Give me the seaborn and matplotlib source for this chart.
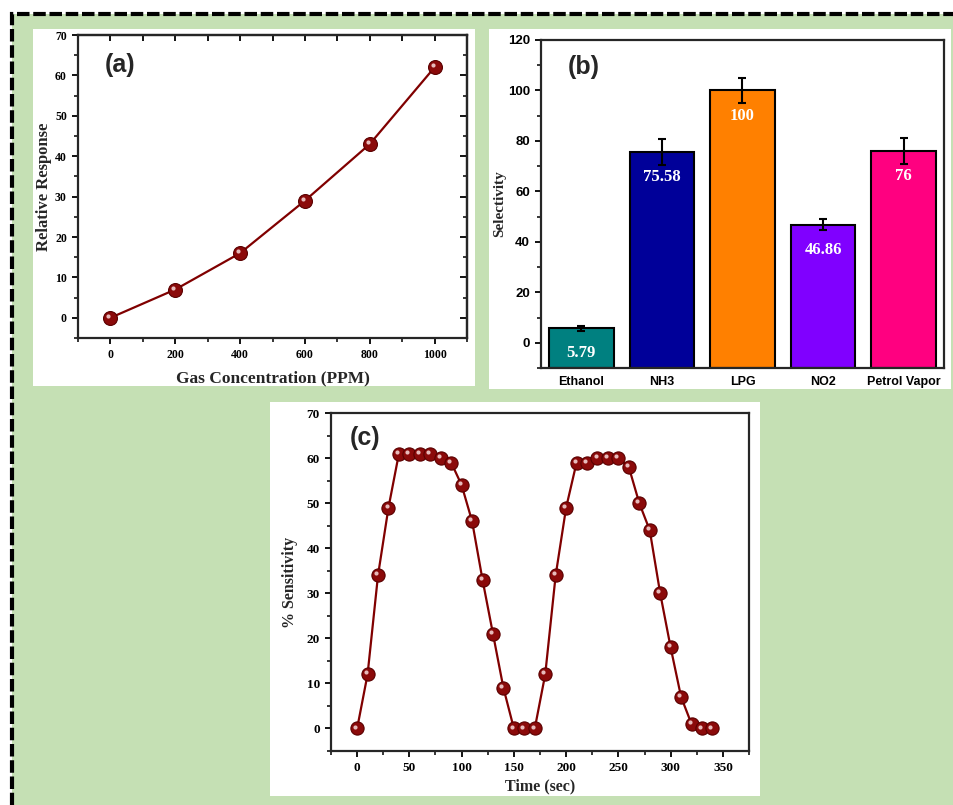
import matplotlib
matplotlib.use('Agg')
import matplotlib.pyplot as plt
import matplotlib.transforms as mtransforms
from matplotlib.patches import Rectangle
from matplotlib.ticker import MultipleLocator
import seaborn as sns
import pandas as pd

# data
# (a) response vs concentration
conc_ppm = [0, 200, 400, 600, 800, 1000]
rel_response = [0, 7, 16, 29, 43, 62]

# (b) selectivity bars
gases = ['Ethanol', 'NH3', 'LPG', 'NO2', 'Petrol Vapor']
selectivity = [5.79, 75.58, 100, 46.86, 76]
sel_err = [1, 5, 5, 2, 5]
bar_labels = ['5.79', '75.58', '100', '46.86', '76']
bar_colors = ['#008080', '#000099', '#ff8000', '#8000ff', '#ff0080']

# (c) sensitivity vs time
time_sec = list(range(0, 341, 10))
sensitivity = [0, 12, 34, 49, 61, 61, 61, 61, 60, 59, 54, 46, 33, 21, 9, 0, 0, 0,
               12, 34, 49, 59, 59, 60, 60, 60, 58, 50, 44, 30, 18, 7, 1, 0, 0]

GREEN = '#c5e0b4'
MAROON = '#800000'
SERIF = 'Liberation Serif'
SANS = 'Liberation Sans'

sns.set_style('ticks')
plt.rcParams['font.family'] = [SERIF, 'DejaVu Serif']
plt.rcParams['axes.linewidth'] = 1.6
plt.rcParams['xtick.major.width'] = 1.3
plt.rcParams['ytick.major.width'] = 1.3
plt.rcParams['xtick.minor.width'] = 1.1
plt.rcParams['ytick.minor.width'] = 1.1
plt.rcParams['xtick.color'] = 'black'
plt.rcParams['ytick.color'] = 'black'

fig = plt.figure(figsize=(9.54, 8.05), dpi=100)
W, H = 954.0, 805.0


def px_rect(x0, y0, x1, y1):
    # pixel box (top-left origin) -> figure fraction [l, b, w, h]
    return [x0 / W, 1 - y1 / H, (x1 - x0) / W, (y1 - y0) / H]


# green background with dashed border
fig.patches.append(Rectangle((12 / W, -0.02), 1.0, 1 - 14 / H + 0.02, transform=fig.transFigure,
                             facecolor=GREEN, edgecolor='black', linewidth=3,
                             linestyle=(0, (3.0, 0.9)), zorder=-3))
# white panels
for box in [(33, 29, 475, 386), (489, 29, 951, 389), (270, 402, 760, 796)]:
    l, b, w, h = px_rect(*box)
    fig.patches.append(Rectangle((l, b), w, h, transform=fig.transFigure,
                                 facecolor='white', edgecolor='none', zorder=-2))


def shiny_line(ax, x, y, ms=10):
    sns.lineplot(x=x, y=y, ax=ax, color=MAROON, linewidth=1.6, marker='o', markersize=ms,
                 markeredgecolor='#5a0000', markeredgewidth=0.8, markerfacecolor='#8b0a0a')
    hl = mtransforms.offset_copy(ax.transData, fig=fig, x=-1.4, y=1.4, units='points')
    ax.plot(x, y, linestyle='none', marker='o', markersize=3, color='#f2d0d0',
            markeredgewidth=0, alpha=0.9, transform=hl)


# ---------------- (a) ----------------
ax1 = fig.add_axes(px_rect(78, 35, 467, 338))
shiny_line(ax1, conc_ppm, rel_response)
ax1.set_xlim(-100, 1100)
ax1.set_ylim(-5, 70)
ax1.xaxis.set_major_locator(MultipleLocator(200))
ax1.xaxis.set_minor_locator(MultipleLocator(100))
ax1.yaxis.set_major_locator(MultipleLocator(10))
ax1.yaxis.set_minor_locator(MultipleLocator(5))
ax1.tick_params(which='major', direction='out', length=4.5)
ax1.tick_params(which='minor', direction='out', length=3)
for lab in ax1.get_xticklabels() + ax1.get_yticklabels():
    lab.set_fontweight('bold')
    lab.set_fontsize(8.5)
top = ax1.secondary_xaxis('top')
top.set_xticks(range(0, 1001, 100))
top.tick_params(direction='in', length=4, width=1.3, labeltop=False)
right = ax1.secondary_yaxis('right')
right.set_yticks(range(0, 71, 10))
right.yaxis.set_minor_locator(MultipleLocator(5))
right.tick_params(which='major', direction='in', length=5, width=1.3, labelright=False)
right.tick_params(which='minor', direction='in', length=3, width=1.1)
ax1.set_xlabel('Gas Concentration (PPM)', fontsize=12.5, fontweight='bold', labelpad=7)
ax1.set_ylabel('Relative Response', fontsize=12, fontweight='bold', labelpad=2)
ax1.text(0.07, 0.90, '(a)', transform=ax1.transAxes, fontsize=18, fontweight='bold',
         family=SANS, va='center', ha='left')

# ---------------- (b) ----------------
ax2 = fig.add_axes(px_rect(541, 40, 944, 368))
df = pd.DataFrame({'gas': gases, 'sel': selectivity})
sns.barplot(data=df, x='gas', y='sel', hue='gas', palette=bar_colors, legend=False,
            saturation=1, width=0.8, edgecolor='black', linewidth=1.5, errorbar=None, ax=ax2)
ymin = -10
# bars start at the bottom of the axis as in the original
for patch, v in zip(ax2.patches, selectivity):
    patch.set_y(ymin)
    patch.set_height(v - ymin)
ax2.errorbar(range(len(gases)), selectivity, yerr=sel_err, fmt='none', ecolor='black',
             elinewidth=1.5, capsize=3, capthick=1.5, zorder=5)
for i, (v, t) in enumerate(zip(selectivity, bar_labels)):
    ax2.text(i, v - 10, t, color='white', ha='center', va='center', fontsize=12,
             fontweight='bold', family=SERIF)
ax2.set_xlim(-0.5, 4.5)
ax2.set_ylim(ymin, 120)
ax2.yaxis.set_major_locator(MultipleLocator(20))
ax2.yaxis.set_minor_locator(MultipleLocator(10))
ax2.tick_params(axis='y', which='major', direction='out', length=4.5)
ax2.tick_params(axis='y', which='minor', direction='out', length=3)
ax2.tick_params(axis='x', length=0, pad=6)
for lab in ax2.get_yticklabels():
    lab.set_fontweight('bold')
    lab.set_family(SANS)
    lab.set_fontsize(9.5)
for lab in ax2.get_xticklabels():
    lab.set_fontweight('bold')
    lab.set_family(SANS)
    lab.set_fontsize(9)
ax2.set_xlabel('')
ax2.set_ylabel('Selectivity', fontsize=11, fontweight='bold', labelpad=1)
ax2.text(0.067, 0.918, '(b)', transform=ax2.transAxes, fontsize=18, fontweight='bold',
         family=SANS, va='center', ha='left')

# ---------------- (c) ----------------
ax3 = fig.add_axes(px_rect(331, 413, 749, 751))
shiny_line(ax3, time_sec, sensitivity, ms=9.5)
ax3.set_xlim(-25, 375)
ax3.set_ylim(-5, 70)
ax3.xaxis.set_major_locator(MultipleLocator(50))
ax3.xaxis.set_minor_locator(MultipleLocator(25))
ax3.yaxis.set_major_locator(MultipleLocator(10))
ax3.yaxis.set_minor_locator(MultipleLocator(5))
ax3.tick_params(which='major', direction='out', length=4.5)
ax3.tick_params(which='minor', direction='out', length=3)
for lab in ax3.get_xticklabels() + ax3.get_yticklabels():
    lab.set_fontweight('bold')
    lab.set_fontsize(9.5)
ax3.set_xlabel('Time (sec)', fontsize=11.5, fontweight='bold', labelpad=3)
ax3.set_ylabel('% Sensitivity', fontsize=11.5, fontweight='bold', labelpad=6)
ax3.text(0.045, 0.926, '(c)', transform=ax3.transAxes, fontsize=18, fontweight='bold',
         family=SANS, va='center', ha='left')

fig.savefig('out.png', dpi=100)
